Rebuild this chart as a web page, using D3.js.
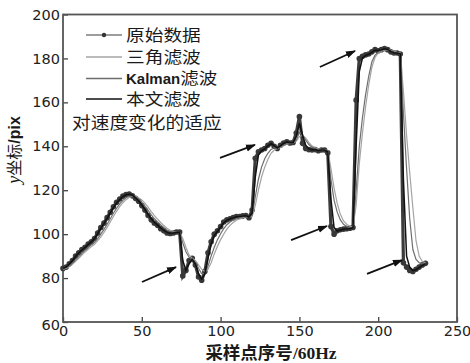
<!DOCTYPE html>
<html>
<head>
<meta charset="utf-8">
<script src="https://cdn.jsdelivr.net/npm/d3@7"></script>
<style>
	body { margin: 0; background: #fff; }
	.tick text { font-family: "DejaVu Sans", sans-serif; font-size: 14.5px; fill: #222; }
	.cjk { font-family: "Noto Sans CJK SC", sans-serif; fill: #1a1a1a; }
</style>
</head>
<body>
<svg id="chart" width="470" height="363"></svg>
<script>
// tick labels
var xTicks = [0, 50, 100, 150, 200, 250];
var yTicks = [60, 80, 100, 120, 140, 160, 180, 200];

// samples every 2 points, x = 0..230
var sampleX = d3.range(0, 231, 2);

var rawData = [
	84.4, 85, 86.5, 88, 90, 91.5, 93, 94, 95.5, 96.5,
	98, 100.5, 103, 105, 107.5, 110, 112.5, 114.5, 116, 117.3,
	118, 118.3, 117.5, 116.3, 115, 113, 111, 108.5, 106.5, 105,
	104, 102.5, 101.5, 100.5, 100.3, 100.5, 101, 101, 81, 83.5,
	88, 89, 86, 80.5, 79, 83, 91.5, 96.5, 100, 101.5,
	103.5, 105.5, 106.5, 107, 107.5, 108, 108, 108.3, 108.5, 107.5,
	111, 134.5, 137.5, 138.3, 139, 140.5, 141.4, 140, 139, 140.5,
	141.5, 142, 141.5, 141.7, 146, 153.5, 141.4, 139, 138.5, 138.3,
	138.5, 138, 138.3, 138.3, 137, 103.5, 100, 101.5, 102, 102.3,
	102.5, 102.7, 103, 161, 180, 181, 181.6, 182, 183, 184,
	183.5, 184, 184.5, 184, 183, 182.5, 182.5, 182, 87, 85,
	83.5, 83, 84, 85, 86, 86.7
];

var triFilter = [
	84, 84.4, 85.2, 86.3, 87.6, 89, 90.5, 91.9, 93.1, 94.3,
	95.4, 96.9, 98.7, 100.8, 103.1, 105.5, 108, 110.4, 112.5, 114.3,
	115.7, 116.7, 117.2, 117.2, 116.6, 115.6, 114.1, 112.3, 110.3, 108.4,
	106.8, 105.3, 103.9, 102.7, 101.8, 101.2, 100.9, 100.9, 98, 94,
	90.5, 89, 88, 86, 84, 83, 84, 87, 91, 94.5,
	97.5, 100, 102.3, 104, 105.3, 106.3, 107, 107.5, 107.9, 108,
	108, 113, 120, 126, 130.5, 134, 136.8, 138.3, 139, 139.5,
	140.3, 141, 141.3, 141.5, 142.3, 144.5, 145, 143.8, 141.8, 140.2,
	139.3, 138.8, 138.5, 138.4, 138.1, 130, 121, 114, 109, 106,
	104.5, 103.6, 103.2, 113, 132, 146, 158, 168, 176, 180.5,
	182.5, 183.3, 183.8, 184, 183.7, 183.2, 182.8, 182.5, 165, 145,
	128, 112, 97, 90, 87.5, 87
];

var kalmanFilter = [
	84.2, 84.6, 85.5, 86.8, 88.3, 89.8, 91.3, 92.6, 93.9, 95.1,
	96.3, 98, 100, 102.2, 104.5, 107, 109.5, 111.8, 113.8, 115.4,
	116.6, 117.3, 117.4, 116.9, 116, 114.6, 112.8, 110.8, 108.8, 107,
	105.6, 104.2, 103, 101.9, 101.2, 100.9, 100.9, 100.9, 96, 92,
	89.5, 88.5, 87.2, 84.5, 82, 82, 85.5, 90, 94, 97.5,
	100.2, 102.5, 104.3, 105.5, 106.4, 107.1, 107.5, 107.8, 108.1, 108,
	108.5, 117, 125, 130.5, 134.3, 136.8, 138.6, 139.3, 139.3, 139.7,
	140.5, 141.2, 141.4, 141.5, 142.8, 146.3, 145.2, 142.8, 140.8, 139.6,
	139, 138.5, 138.4, 138.3, 138, 125, 115.5, 110, 106.5, 104.5,
	103.5, 103, 103, 120, 140, 153, 163.5, 172, 178.5, 181.5,
	182.8, 183.5, 184, 184, 183.5, 183, 182.7, 182.3, 155, 130,
	107, 93, 88.5, 87, 86.5, 86.6
];

var oursFilter = [
	84.4, 85, 86.4, 87.9, 89.8, 91.4, 92.8, 94, 95.3, 96.5,
	98, 100.2, 102.6, 104.8, 107.2, 109.7, 112.1, 114.2, 115.8, 117.1,
	117.9, 118.2, 117.7, 116.6, 115.2, 113.3, 111.3, 109, 107, 105.3,
	104.1, 102.8, 101.7, 100.8, 100.4, 100.5, 100.9, 101, 88, 83.5,
	86.5, 88.5, 86.5, 82, 79.5, 82, 89, 95.5, 99.3, 101.3,
	103.2, 105.2, 106.3, 107, 107.4, 107.9, 108, 108.2, 108.4, 107.8,
	109.5, 126, 136, 138, 138.8, 140.2, 141.2, 140.3, 139.2, 140.2,
	141.3, 141.9, 141.6, 141.6, 144.5, 150.5, 145, 140.5, 138.8, 138.4,
	138.5, 138.1, 138.3, 138.3, 137.5, 116, 103, 101.4, 101.9, 102.2,
	102.4, 102.6, 102.9, 140, 174, 180.2, 181.4, 181.9, 182.8, 183.7,
	183.6, 183.9, 184.4, 184.1, 183.2, 182.6, 182.5, 182.1, 125, 90,
	85, 83.4, 83.8, 84.8, 85.8, 86.6
];

var seriesNames = ["原始数据", "三角滤波", "Kalman滤波", "本文滤波"];
var noteText = "对速度变化的适应";

// arrows pointing at the transitions, [x0, y0, x1, y1] in data units
var arrows = [
	[99.6, 134.7, 121.8, 140.6],
	[163, 176.1, 185.3, 183.4],
	[50.1, 78.2, 71.7, 85],
	[144.7, 97.3, 167.5, 103.7],
	[192.9, 81.9, 215.1, 88.2]
];

var svg = d3.select("#chart");

var x = d3.scaleLinear().domain([0, 250]).range([63, 457]);
var y = d3.scaleLinear().domain([60, 200]).range([322, 14.5]);

// axes, ticks pointing inward
var xAxis = svg.append("g")
	.attr("transform", "translate(0," + y(60) + ")")
	.call(d3.axisBottom(x).tickValues(xTicks).tickSize(-5).tickPadding(4));
var yAxis = svg.append("g")
	.attr("transform", "translate(" + x(0) + ",0)")
	.call(d3.axisLeft(y).tickValues(yTicks).tickSize(-5).tickPadding(3));

[xAxis, yAxis].forEach(function(g){
	g.select(".domain").remove();
	g.selectAll(".tick line").attr("stroke", "#444").attr("stroke-width", 1.3);
});
yAxis.selectAll(".tick text").filter(function(d){ return d === 60; }).attr("dy", "0.55em");

// frame
svg.append("rect")
	.attr("x", x(0)).attr("y", y(200))
	.attr("width", x(250) - x(0)).attr("height", y(60) - y(200))
	.attr("fill", "none").attr("stroke", "#555").attr("stroke-width", 1.8);

var line = d3.line()
	.x(function(d, i){ return x(sampleX[i]); })
	.y(function(d){ return y(d); });

var plot = svg.append("g");

// raw data: thick line + dots
plot.append("path").datum(rawData)
	.attr("d", line).attr("fill", "none")
	.attr("stroke", "#3c3c3c").attr("stroke-width", 3.2);
plot.selectAll("circle.raw").data(rawData).enter().append("circle")
	.attr("class", "raw")
	.attr("cx", function(d, i){ return x(sampleX[i]); })
	.attr("cy", function(d){ return y(d); })
	.attr("r", 2.8).attr("fill", "#383838");

plot.append("path").datum(triFilter)
	.attr("d", line).attr("fill", "none")
	.attr("stroke", "#a4a4a4").attr("stroke-width", 1.2);
plot.append("path").datum(kalmanFilter)
	.attr("d", line).attr("fill", "none")
	.attr("stroke", "#6e6e6e").attr("stroke-width", 1.2);
plot.append("path").datum(oursFilter)
	.attr("d", line).attr("fill", "none")
	.attr("stroke", "#111").attr("stroke-width", 1.5);

// arrows
svg.append("defs").append("marker")
	.attr("id", "head")
	.attr("markerUnits", "userSpaceOnUse")
	.attr("markerWidth", 10).attr("markerHeight", 8)
	.attr("refX", 9).attr("refY", 4).attr("orient", "auto")
	.append("path").attr("d", "M0,0.5 L10,4 L0,7.5 z").attr("fill", "#111");

svg.selectAll("line.arrow").data(arrows).enter().append("line")
	.attr("class", "arrow")
	.attr("x1", function(d){ return x(d[0]); })
	.attr("y1", function(d){ return y(d[1]); })
	.attr("x2", function(d){ return x(d[2]); })
	.attr("y2", function(d){ return y(d[3]); })
	.attr("stroke", "#111").attr("stroke-width", 1.8)
	.attr("marker-end", "url(#head)");

// legend
var legendColors = ["#3c3c3c", "#a4a4a4", "#6e6e6e", "#111"];
var legendRows = [35, 57, 78.5, 99];
var legend = svg.append("g");

seriesNames.forEach(function(name, i){
	var ly = legendRows[i];
	legend.append("line")
		.attr("x1", 86).attr("x2", 122).attr("y1", ly).attr("y2", ly)
		.attr("stroke", legendColors[i]).attr("stroke-width", i === 0 ? 1.2 : (i === 3 ? 1.5 : 1.3));
	if (i === 0) {
		legend.append("circle").attr("cx", 104).attr("cy", ly).attr("r", 2.2).attr("fill", "#333");
	}
	var t = legend.append("text").attr("class", "cjk")
		.attr("x", 126).attr("y", ly + 5.5)
		.attr("font-size", 15.5);
	if (name.indexOf("Kalman") === 0) {
		t.append("tspan").text("Kalman")
			.attr("font-family", "'Liberation Sans', Arial, sans-serif")
			.attr("font-weight", "bold").attr("font-size", 15);
		t.append("tspan").text(name.slice(6))
			.attr("textLength", 37).attr("lengthAdjust", "spacingAndGlyphs");
	} else {
		t.text(name)
			.attr("textLength", name.length * 18.7).attr("lengthAdjust", "spacingAndGlyphs");
	}
});

legend.append("text").attr("class", "cjk")
	.attr("x", 72).attr("y", 129)
	.attr("font-size", 16.5)
	.attr("textLength", noteText.length * 18.7).attr("lengthAdjust", "spacingAndGlyphs")
	.text(noteText);

// axis titles
var xTitle = svg.append("text").attr("class", "cjk")
	.attr("x", 271).attr("y", 359)
	.attr("text-anchor", "middle")
	.attr("font-size", 17.5).attr("font-weight", "bold");
xTitle.append("tspan").text("采样点序号");
xTitle.append("tspan").text("/60Hz")
	.attr("font-family", "'Liberation Serif', 'Times New Roman', serif");

var yTitle = svg.append("text").attr("class", "cjk")
	.attr("transform", "translate(20,150) rotate(-90)")
	.attr("text-anchor", "middle")
	.attr("font-size", 16);
yTitle.append("tspan").text("y")
	.attr("font-family", "'Liberation Serif', serif").attr("font-style", "italic").attr("font-size", 18);
yTitle.append("tspan").text("坐标");
yTitle.append("tspan").text("/pix")
	.attr("font-family", "'Liberation Sans', Arial, sans-serif").attr("font-weight", "bold");
</script>
</body>
</html>
